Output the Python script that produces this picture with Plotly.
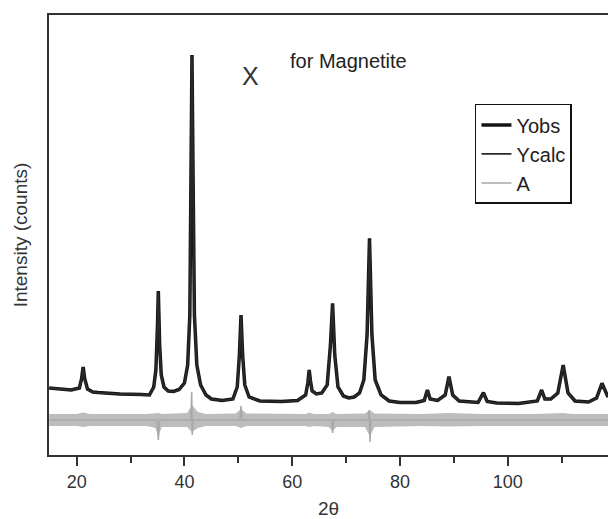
import plotly.graph_objects as go

# ---- data (intensity in arbitrary counts) ----
two_theta = [14.9, 17, 19, 20.5, 20.9, 21.2, 21.5, 22, 23, 24, 28, 32, 33.5, 34.3, 34.7, 35.0,
             35.15, 35.4, 35.7, 36.2, 37, 38, 39, 40, 40.6, 41.0, 41.25, 41.4, 41.6, 41.85,
             42.3, 43, 44, 45, 47, 49, 49.8, 50.2, 50.5, 50.8, 51.2, 52, 54, 58, 61, 62.5,
             62.9, 63.15, 63.4, 63.7, 64.5, 65.5, 66.5, 67.1, 67.5, 67.9, 68.5, 69.5, 70.5,
             71.5, 72.5, 73.3, 73.9, 74.35, 74.8, 75.4, 76.5, 78, 80, 83, 84.5, 85.1, 85.6,
             87, 88.4, 89.1, 89.8, 91, 94.5, 95.5, 96.2, 98, 102, 105.5, 106.3, 106.9, 108,
             109.3, 110.3, 111.2, 112.5, 115, 116.5, 117.5, 118.62]
y_obs = [670, 660, 650, 670, 760, 880, 760, 660, 630, 625, 610, 605, 600, 680, 850, 1300,
         1640, 1100, 800, 680, 640, 635, 655, 720, 900, 1400, 2800, 4000, 2800, 1400,
         900, 700, 600, 560, 545, 560, 680, 1000, 1400, 1000, 700, 580, 540, 535, 545, 600,
         720, 850, 740, 640, 610, 620, 700, 1100, 1517, 1000, 680, 590, 570,
         580, 620, 750, 1200, 2167, 1200, 750, 600, 540, 525, 525, 545, 650, 560,
         545, 600, 783, 600, 540, 525, 623, 535, 520, 515, 540, 650, 560, 560,
         620, 900, 620, 540, 530, 570, 717, 580]
y_calc = [670, 660, 650, 665, 750, 870, 750, 655, 628, 622, 610, 603, 600, 675, 840, 1290,
          1630, 1090, 790, 675, 638, 632, 652, 715, 895, 1390, 2790, 3980, 2790, 1390,
          895, 695, 598, 558, 543, 558, 675, 995, 1390, 995, 695, 578, 538, 533, 543, 598,
          715, 845, 735, 638, 608, 618, 695, 1095, 1505, 995, 678, 588, 568,
          578, 618, 745, 1195, 2150, 1195, 745, 598, 538, 523, 523, 543, 645, 558,
          543, 598, 778, 598, 538, 523, 620, 533, 518, 513, 538, 645, 558, 558,
          618, 895, 618, 538, 528, 568, 712, 578]

# residual (A): visible noise band envelope and its thin centre trace with spikes
res_theta = [14.9, 20, 21.2, 22.5, 33, 34.6, 35.15, 35.8, 40.5, 41.4, 42.5, 44, 49.5, 50.5,
             51.5, 62.5, 63.2, 64, 66.8, 67.5, 68.2, 73.5, 74.4, 75.3, 84, 89, 95, 105,
             110.3, 112, 118.62]
res_upper = [410, 410, 425, 410, 410, 415, 420, 410, 420, 500, 430, 410, 415, 460,
             415, 410, 425, 410, 410, 430, 410, 415, 450, 415, 410, 420, 410, 410,
             420, 410, 410]
res_lower = [290, 290, 280, 290, 290, 270, 190, 280, 280, 230, 270, 290, 290, 270,
             290, 290, 280, 290, 280, 240, 280, 280, 190, 280, 290, 285, 290, 290,
             285, 290, 290]
a_theta = [14.9, 34.9, 35.15, 35.4, 41.2, 41.35, 41.45, 41.6, 50.3, 50.5, 50.7, 67.3, 67.5,
           67.7, 74.1, 74.3, 74.45, 74.6, 118.62]
a_vals = [350, 350, 150, 350, 350, 630, 200, 350, 350, 490, 350, 350, 220,
          350, 350, 450, 130, 350, 350]

fig = go.Figure()
fig.add_trace(go.Scatter(x=res_theta, y=res_upper, mode="lines", line=dict(width=0, color="#b4b4b4"),
                         showlegend=False, hoverinfo="skip"))
fig.add_trace(go.Scatter(x=res_theta, y=res_lower, mode="lines", line=dict(width=0, color="#b4b4b4"),
                         fill="tonexty", fillcolor="rgba(178,178,178,0.85)", showlegend=False,
                         hoverinfo="skip"))
fig.add_trace(go.Scatter(x=two_theta, y=y_obs, mode="lines", name="Yobs",
                         line=dict(color="#151515", width=3.5)))
fig.add_trace(go.Scatter(x=two_theta, y=y_calc, mode="lines", name="Ycalc",
                         line=dict(color="#2a2a2a", width=1.8)))
fig.add_trace(go.Scatter(x=a_theta, y=a_vals, mode="lines", name="A",
                         line=dict(color="#a8a8a8", width=1.5)))

font_family = "Liberation Sans, Arial, sans-serif"

fig.update_layout(
    width=608, height=519,
    margin=dict(l=49, r=0, t=15, b=64),
    paper_bgcolor="white", plot_bgcolor="white",
    font=dict(family=font_family, color="#333333", size=18),
    legend=dict(x=0.762, y=0.798, xanchor="left", yanchor="top", traceorder="normal",
                bordercolor="#111111", borderwidth=1.5, bgcolor="white",
                font=dict(size=20, color="#222222"), tracegroupgap=0),
    xaxis=dict(range=[14.86, 118.62], showgrid=False, zeroline=False,
               showline=True, linecolor="#333333", linewidth=2, mirror=True,
               ticks="outside", ticklen=9, tickwidth=2, tickcolor="#333333",
               tick0=0, dtick=20, tickfont=dict(size=18),
               minor=dict(ticks="outside", ticklen=6, tickwidth=2, dtick=10, tickcolor="#333333"),
               title=dict(text="2θ", font=dict(size=19), standoff=12)),
    yaxis=dict(range=[0, 4400], showgrid=False, zeroline=False,
               showline=True, linecolor="#333333", linewidth=2,
               showticklabels=False, ticks="",
               title=dict(text="Intensity (counts)", font=dict(size=19), standoff=14)),
    annotations=[
        dict(x=52.17, y=0.897, xref="x", yref="paper", text="X", showarrow=False,
             font=dict(size=25, color="#333333")),
        dict(x=70.5, y=0.925, xref="x", yref="paper", text="for Magnetite", showarrow=False,
             font=dict(size=20, color="#222222")),
    ],
)

fig.write_html("out.html")
